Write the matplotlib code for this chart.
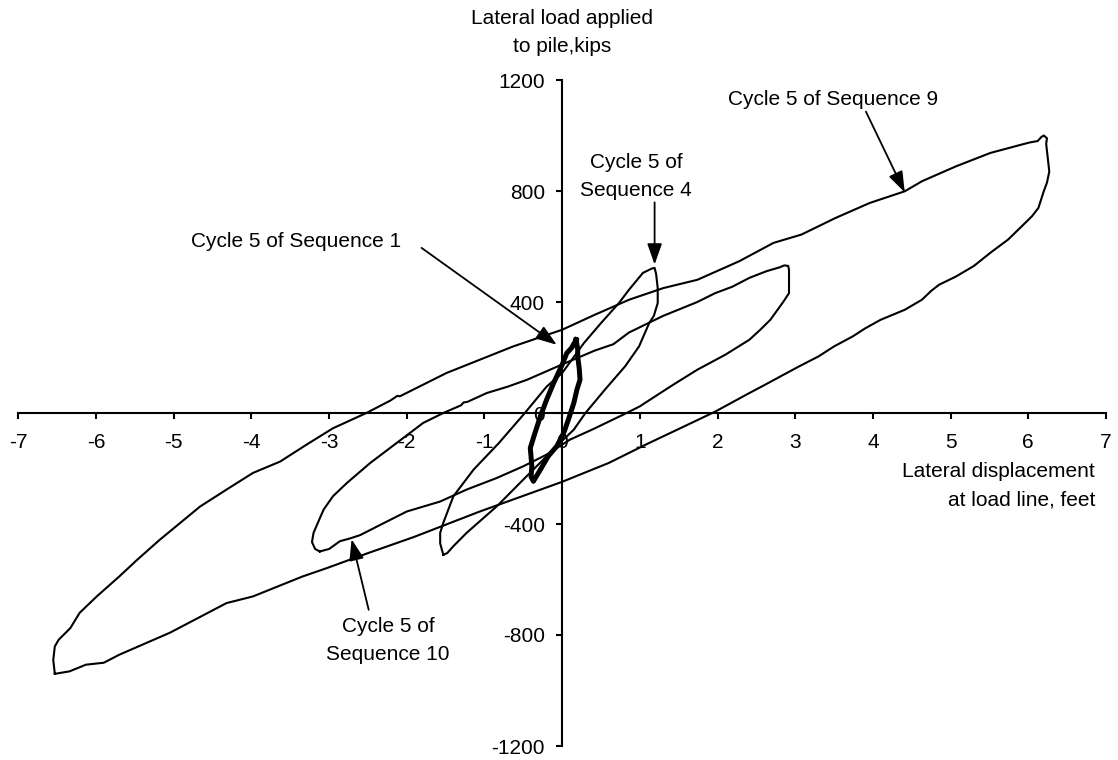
import matplotlib
matplotlib.use("Agg")
import matplotlib.pyplot as plt

plt.rcParams["font.family"] = ["Liberation Sans", "DejaVu Sans"]
plt.rcParams["axes.unicode_minus"] = False

# Lateral displacement (feet) and lateral load (kips) for each hysteresis loop

# Cycle 5 of Sequence 9
seq9_x = [-6.53, -6.55, -6.53, -6.48, -6.33, -6.21, -5.99, -5.70, -5.47, -5.18, -4.92,
          -4.66, -4.32, -3.98, -3.63, -3.29, -2.95, -2.52, -2.21, -2.12, -2.09, -1.49,
          -1.06, -0.63, 0.00, 0.42, 0.86, 1.30, 1.74, 2.28, 2.72, 3.08, 3.52, 3.96,
          4.41, 4.63, 5.07, 5.51, 5.91, 6.02, 6.12, 6.17, 6.20, 6.24, 6.23, 6.25,
          6.27, 6.24, 6.20, 6.13, 6.05, 5.96, 5.85, 5.74, 5.62, 5.51, 5.30, 5.07,
          4.85, 4.75, 4.63, 4.41, 4.10, 3.90, 3.74, 3.50, 3.30, 3.05, 2.85, 2.60,
          2.41, 1.97, 1.52, 1.09, 0.60, 0.00, -1.06, -1.91, -2.50, -3.03, -3.34,
          -3.98, -4.32, -5.05, -5.70, -5.90, -6.13, -6.34, -6.53]
seq9_y = [-940, -890, -841, -817, -775, -720, -661, -589, -529, -457, -397,
          -337, -276, -216, -175, -114, -55, 0, 45, 62, 60, 144,
          192, 240, 300, 354, 408, 450, 480, 547, 613, 643, 703, 757,
          799, 835, 889, 937, 967, 975, 980, 995, 1000, 990, 970, 920,
          870, 830, 800, 739, 710, 685, 655, 625, 600, 577, 530, 492,
          462, 440, 408, 372, 336, 305, 276, 240, 204, 168, 138, 100,
          72, 5, -55, -112, -180, -248, -355, -447, -505, -559, -589,
          -661, -685, -792, -871, -900, -907, -931, -940]

# Cycle 5 of Sequence 10
seq10_x = [-3.12, -3.18, -3.22, -3.20, -3.12, -3.07, -2.95, -2.77, -2.47, -2.13, -1.79,
           -1.53, -1.30, -1.27, -1.22, -0.97, -0.70, -0.45, 0.00, 0.42, 0.66, 0.86,
           1.30, 1.74, 1.97, 2.19, 2.41, 2.63, 2.80, 2.86, 2.91, 2.92, 2.92, 2.85,
           2.68, 2.55, 2.41, 2.10, 1.74, 1.43, 1.17, 1.00, 0.83, 0.40, 0.10, -0.20,
           -0.50, -0.84, -1.23, -1.57, -2.00, -2.34, -2.60, -2.73, -2.86, -2.94,
           -3.00, -3.12]
seq10_y = [-499, -490, -465, -432, -380, -348, -300, -252, -180, -108, -36,
           0, 28, 38, 40, 72, 95, 120, 175, 225, 248, 290,
           350, 400, 432, 455, 487, 511, 525, 532, 530, 515, 432, 402,
           336, 300, 264, 210, 156, 102, 55, 24, 0, -58, -96, -150,
           -192, -234, -276, -319, -355, -403, -440, -452, -462, -478,
           -490, -499]

# Cycle 5 of Sequence 4
seq4_x = [-1.53, -1.57, -1.57, -1.53, -1.40, -1.14, -0.82, -0.48, -0.20, 0.00, 0.28,
          0.50, 0.73, 0.86, 1.04, 1.15, 1.19, 1.21, 1.23, 1.23, 1.18, 1.12,
          0.99, 0.81, 0.55, 0.30, 0.15, 0.00, -0.20, -0.50, -0.84, -1.23, -1.40,
          -1.48, -1.53]
seq4_y = [-511, -470, -432, -396, -300, -204, -110, 0, 95, 144, 252,
          324, 396, 444, 505, 520, 523, 500, 450, 396, 350, 324,
          240, 168, 84, 0, -60, -100, -156, -240, -336, -432, -480,
          -505, -511]

# Cycle 5 of Sequence 1
seq1_x = [0.18, 0.20, 0.20, 0.22, 0.23, 0.19, 0.15, 0.08, 0.02, -0.07, -0.18,
          -0.28, -0.37, -0.40, -0.39, -0.41, -0.35, -0.28, -0.20, -0.11, 0.00,
          0.06, 0.12, 0.18]
seq1_y = [264, 230, 204, 160, 120, 84, 36, -24, -72, -120, -156,
          -204, -246, -230, -192, -126, -72, -12, 48, 108, 174,
          216, 234, 264]

x_ticks = [-7, -6, -5, -4, -3, -2, -1, 0, 1, 2, 3, 4, 5, 6, 7]
y_ticks = [-1200, -800, -400, 0, 400, 800, 1200]

# Callouts: text, text anchor, arrow tail, arrow tip
callouts = [
    ("Cycle 5 of Sequence 9", (3.49, 1129), (3.91, 1086), (4.41, 795)),
    ("Cycle 5 of\nSequence 4", (0.95, 853), (1.19, 759), (1.19, 535)),
    ("Cycle 5 of Sequence 1", (-3.42, 618), (-1.81, 595), (-0.07, 246)),
    ("Cycle 5 of\nSequence 10", (-2.24, -821), (-2.49, -709), (-2.71, -455)),
]

FS = 15
LS = 1.58

fig = plt.figure(figsize=(11.18, 7.6), dpi=100)
ax = fig.add_axes([18.3 / 1118, 14 / 760, (1106 - 18.3) / 1118, 666 / 760])
ax.set_xlim(-7, 7)
ax.set_ylim(-1200, 1200)

for xs, ys, lw in [(seq9_x, seq9_y, 1.5), (seq10_x, seq10_y, 1.5),
                   (seq4_x, seq4_y, 1.5), (seq1_x, seq1_y, 3.6)]:
    ax.plot(xs, ys, color="black", lw=lw, solid_joinstyle="round", zorder=3)

ax.spines["top"].set_visible(False)
ax.spines["right"].set_visible(False)
ax.spines["left"].set_position(("data", 0))
ax.spines["bottom"].set_position(("data", 0))
for s in ("left", "bottom"):
    ax.spines[s].set_linewidth(1.5)

ax.set_xticks(x_ticks)
ax.set_yticks(y_ticks)
ax.set_xticklabels([str(v) for v in x_ticks])
ax.set_yticklabels([str(v) for v in y_ticks])
ax.tick_params(axis="x", direction="out", length=4.5, width=1.5, labelsize=FS, pad=10)
ax.tick_params(axis="y", direction="out", length=4.5, width=1.5, labelsize=FS, pad=8)

for label, (tx, ty), tail, tip in callouts:
    ax.text(tx, ty, label, fontsize=FS, ha="center", va="center",
            multialignment="center", linespacing=LS)
    ax.annotate("", xy=tip, xytext=tail,
                arrowprops=dict(arrowstyle="-|>,head_length=0.85,head_width=0.3",
                                mutation_scale=15, color="black", lw=1.3,
                                shrinkA=0, shrinkB=0))

ax.text(0, 1372, "Lateral load applied\nto pile,kips", fontsize=FS, ha="center",
        va="center", multialignment="center", linespacing=LS, clip_on=False)
ax.text(6.86, -262, "Lateral displacement\nat load line, feet", fontsize=FS,
        ha="right", va="center", multialignment="right", linespacing=LS)

fig.savefig("out.png", dpi=100, facecolor="white")
